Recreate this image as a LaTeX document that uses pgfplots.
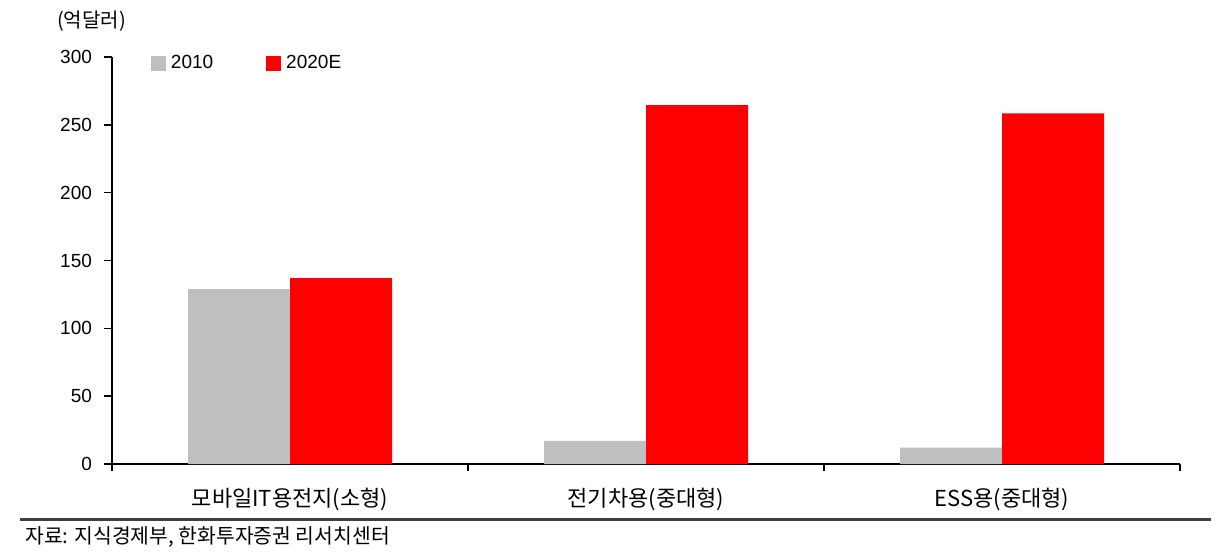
\documentclass[border=0pt]{standalone}
\usepackage{fontspec}
\setmainfont{Liberation Sans}
\newfontfamily\kr{Noto Sans CJK KR}
\usepackage{pgfplots}
\pgfplotsset{compat=1.18}

\definecolor{bar2010}{RGB}{191,191,191}
\definecolor{bar2020}{RGB}{255,0,0}
\definecolor{srcrule}{RGB}{64,64,64}

\begin{document}
\begin{tikzpicture}
% 1 px of the reference = 0.5pt, axis origin at px (112,464)
\useasboundingbox (-56pt,-45pt) rectangle (553.5pt,232pt);

\begin{axis}[
    at={(0pt,0pt)}, anchor=south west,
    width=534pt, height=203.5pt, scale only axis,
    xmin=-0.5, xmax=2.5, ymin=0, ymax=300,
    axis x line*=bottom, axis y line*=left,
    axis line style={black, line width=0.8pt},
    ybar=0pt, bar width=51pt,
    ytick={0,50,...,300},
    tick align=outside, major tick length=4pt,
    tick style={black, line width=0.8pt},
    /pgf/number format/assume math mode=true,
    yticklabel style={font=\fontsize{9.5}{11}\selectfont, xshift=-2.5pt},
    xtick={0,1,2},
    xticklabels={모바일IT용전지(소형), 전기차용(중대형), ESS용(중대형)},
    xticklabel style={font=\kr\fontsize{11}{13}\selectfont, yshift=-4.5pt},
    xtick style={draw=none},
    extra x ticks={-0.5,0.5,1.5,2.5},
    extra x tick labels={},
    extra x tick style={xtick style={draw=black}, major tick length=3.5pt},
    legend columns=2,
    legend style={
        at={(axis description cs:0.0365,0.985)}, anchor=west,
        draw=none, fill=none, inner sep=0pt, outer sep=0pt,
        font=\fontsize{9.5}{11}\selectfont,
        nodes={inner sep=0pt},
        /tikz/every odd column/.append style={column sep=2.5pt},
        /tikz/every even column/.append style={column sep=26.5pt},
    },
    legend image code/.code={\fill[#1,draw=none] (0pt,-3.75pt) rectangle (7.5pt,3.75pt);},
]
\addplot[fill=bar2010, draw=none] coordinates {(0,129) (1,17) (2,12)};
\addlegendentry{2010}
\addplot[fill=bar2020, draw=none] coordinates {(0,137) (1,264.5) (2,258.5)};
\addlegendentry{2020E}
\end{axis}

\node[inner sep=0pt] at (-10.25pt,221.5pt) {\kr\fontsize{10}{12}\selectfont (억달러)};
\draw[srcrule, line width=1.5pt] (-46pt,-27.5pt) -- (549.5pt,-27.5pt);
\node[anchor=west, inner sep=0pt] at (-43.5pt,-36.5pt)
    {\kr\fontsize{10.2}{12}\selectfont 자료: 지식경제부, 한화투자증권 리서치센터};
\end{tikzpicture}
\end{document}
